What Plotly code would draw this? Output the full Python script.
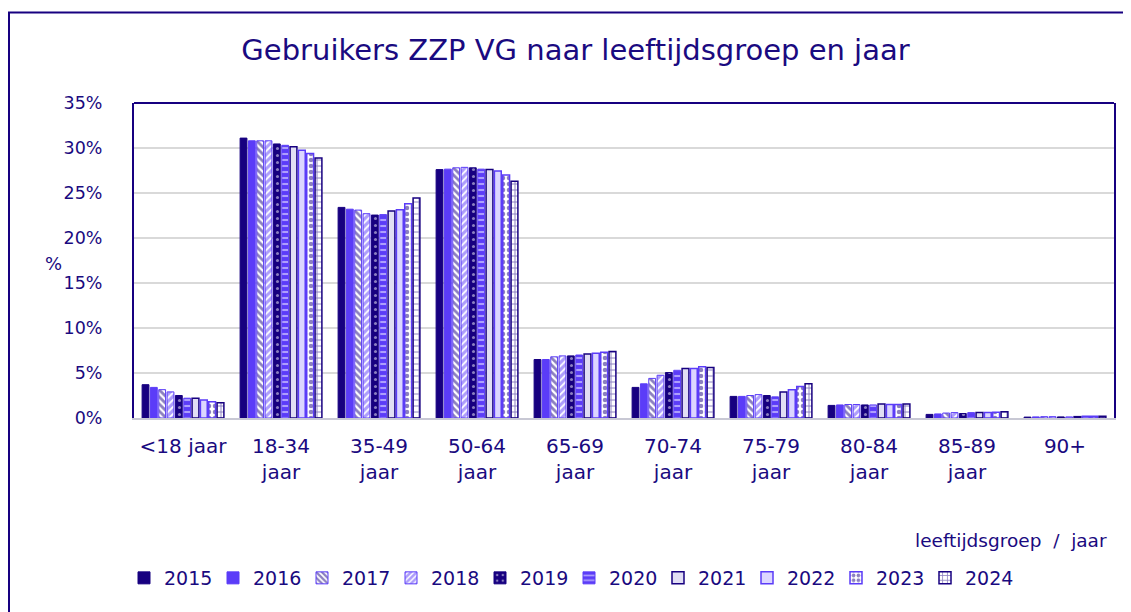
import plotly.graph_objects as go

categories = ["<18 jaar", "18-34<br>jaar", "35-49<br>jaar", "50-64<br>jaar", "65-69<br>jaar",
              "70-74<br>jaar", "75-79<br>jaar", "80-84<br>jaar", "85-89<br>jaar", "90+"]
years = ["2015", "2016", "2017", "2018", "2019", "2020", "2021", "2022", "2023", "2024"]

v2015 = [3.7, 31.1, 23.4, 27.6, 6.5, 3.4, 2.4, 1.40, 0.40, 0.10]
v2016 = [3.4, 30.8, 23.2, 27.65, 6.5, 3.8, 2.4, 1.45, 0.45, 0.12]
v2017 = [3.15, 30.8, 23.1, 27.8, 6.8, 4.4, 2.5, 1.50, 0.55, 0.15]
v2018 = [2.9, 30.8, 22.7, 27.85, 6.9, 4.75, 2.6, 1.50, 0.60, 0.15]
v2019 = [2.5, 30.45, 22.55, 27.8, 6.9, 5.05, 2.5, 1.45, 0.50, 0.12]
v2020 = [2.2, 30.3, 22.6, 27.65, 7.0, 5.3, 2.35, 1.45, 0.60, 0.12]
v2021 = [2.2, 30.15, 23.0, 27.6, 7.1, 5.5, 2.9, 1.55, 0.60, 0.15]
v2022 = [2.0, 29.75, 23.15, 27.45, 7.2, 5.5, 3.15, 1.50, 0.60, 0.20]
v2023 = [1.8, 29.4, 23.8, 27.0, 7.3, 5.7, 3.5, 1.50, 0.65, 0.20]
v2024 = [1.7, 28.9, 24.45, 26.3, 7.4, 5.6, 3.8, 1.55, 0.70, 0.20]
values = [v2015, v2016, v2017, v2018, v2019, v2020, v2021, v2022, v2023, v2024]

NAVY = "#170080"
PURPLE = "#5b3cf8"
LAV1 = "#e1def4"
LAV2 = "#dcd6ff"
WHITE = "#ffffff"
TXT = "#1a0a80"
FONT = "DejaVu Sans"

styles = [
    dict(color=NAVY, line=dict(color=NAVY, width=1)),
    dict(color=PURPLE, line=dict(color=PURPLE, width=1)),
    dict(color=WHITE, line=dict(color=PURPLE, width=1),
         pattern=dict(shape="\\", fgcolor=NAVY, bgcolor=WHITE, size=5, solidity=0.55)),
    dict(color=WHITE, line=dict(color=PURPLE, width=1),
         pattern=dict(shape="/", fgcolor=PURPLE, bgcolor=WHITE, size=5, solidity=0.65)),
    dict(color=NAVY, line=dict(color=NAVY, width=1),
         pattern=dict(shape=".", fgcolor=WHITE, bgcolor=NAVY, size=7, solidity=0.15)),
    dict(color=PURPLE, line=dict(color=PURPLE, width=1),
         pattern=dict(shape="-", fgcolor=WHITE, bgcolor=PURPLE, size=6, solidity=0.35)),
    dict(color=LAV1, line=dict(color=NAVY, width=1.5)),
    dict(color=LAV2, line=dict(color=PURPLE, width=1.5)),
    dict(color=WHITE, line=dict(color=PURPLE, width=1.5),
         pattern=dict(shape=".", fgcolor=NAVY, bgcolor=WHITE, size=6, solidity=0.45)),
    dict(color=WHITE, line=dict(color=NAVY, width=1.5),
         pattern=dict(shape="+", fgcolor=NAVY, bgcolor=WHITE, size=6, solidity=0.3)),
]

fig = go.Figure()
for yr, vals, st in zip(years, values, styles):
    fig.add_trace(go.Bar(x=categories, y=vals, name=yr, marker=st))

# page body has an 8px offset; work in screen coords and subtract it
OFF = 8
W, H = 1131, 612
L, T, R, B = 134, 103, 1114, 418   # screen coords of plot area
ml = L - OFF
mt = T - OFF
mr = W - (R - OFF)
mb = H - (B - OFF)
pw = R - L
ph = B - T

def px_x(x):
    return (x - L) / pw

def px_y(y):
    return (B - y) / ph

fig.update_layout(
    width=W, height=H,
    margin=dict(l=ml, r=mr, t=mt, b=mb),
    paper_bgcolor="white", plot_bgcolor="white",
    barmode="group", bargap=0.15, bargroupgap=0.18,
    font=dict(family=FONT, color=TXT, size=18),
    title=dict(text="Gebruikers ZZP VG naar leeftijdsgroep en jaar",
               x=(575.5 - OFF) / W, xanchor="center", y=1 - (50 - OFF) / H, yanchor="middle",
               yref="container", font=dict(size=29, color=TXT, family=FONT)),
    legend=dict(orientation="h", x=px_x(124), xanchor="left", y=px_y(578), yanchor="middle",
                font=dict(size=19, color=TXT), entrywidth=44, entrywidthmode="pixels",
                traceorder="normal", bgcolor="rgba(0,0,0,0)"),
    showlegend=True,
)

fig.update_yaxes(range=[0, 35], dtick=5, ticksuffix="%", showgrid=True,
                 gridcolor="#d9d9d9", gridwidth=2, zeroline=False,
                 showline=True, mirror=True, linecolor=NAVY, linewidth=2,
                 ticks="outside", ticklen=26, tickcolor="rgba(0,0,0,0)",
                 tickfont=dict(size=17.5, color=TXT, family=FONT))
fig.update_xaxes(showline=True, linecolor="#c8c8d4", linewidth=2, showgrid=False,
                 ticks="outside", ticklen=9, tickcolor="rgba(0,0,0,0)",
                 tickfont=dict(size=20, color=TXT, family=FONT))

fig.add_shape(type="line", xref="paper", yref="paper", x0=0, x1=1, y0=1, y1=1,
              line=dict(color=NAVY, width=2))
fig.add_shape(type="rect", xref="paper", yref="paper",
              x0=px_x(9), x1=px_x(1200), y0=px_y(700), y1=px_y(12.5),
              line=dict(color=NAVY, width=2), layer="below")

fig.add_annotation(text="%", xref="paper", yref="paper", x=px_x(53), y=px_y(263),
                   xanchor="center", yanchor="middle", showarrow=False,
                   font=dict(size=18, color=TXT, family=FONT))
fig.add_annotation(text="leeftijdsgroep\u00a0\u00a0/\u00a0\u00a0jaar", xref="paper", yref="paper",
                   x=px_x(913), y=px_y(540), xanchor="left", yanchor="middle",
                   showarrow=False, font=dict(size=18.5, color=TXT, family=FONT))

fig.write_html("out.html")
